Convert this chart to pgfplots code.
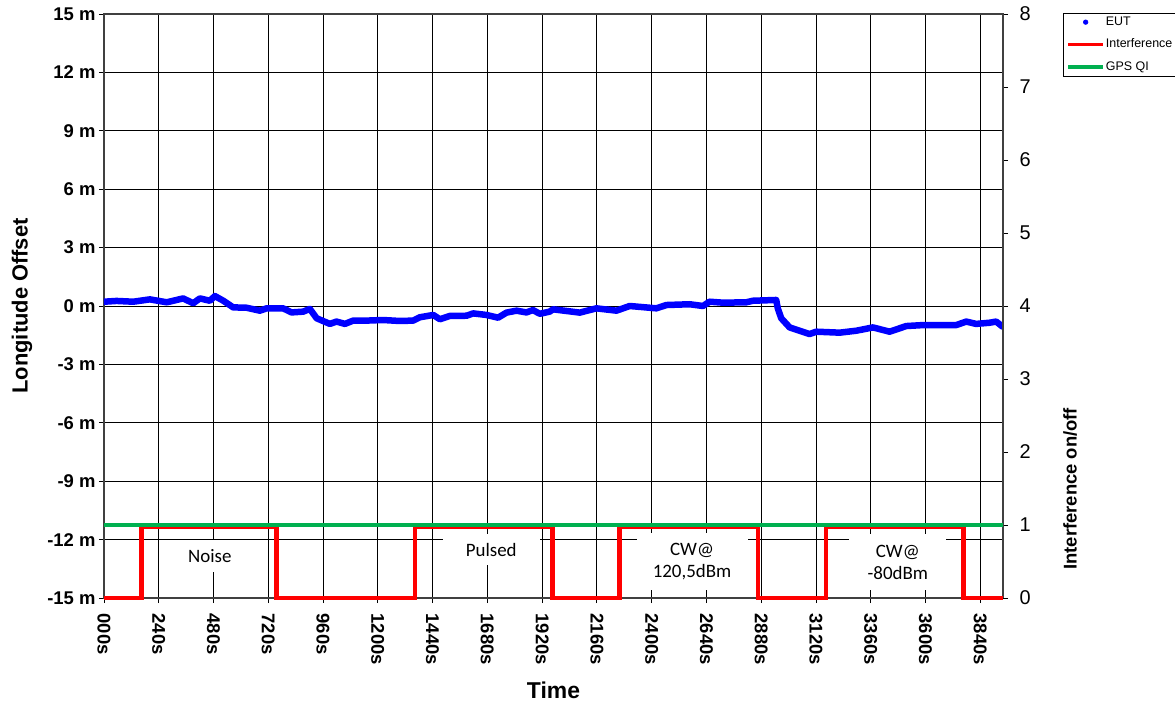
\documentclass[border=0pt]{standalone}
\usepackage{pgfplots}
\pgfplotsset{compat=1.18}
\usepackage{fontspec}
\setmainfont{Liberation Sans}
\newfontfamily\carlito{Carlito}
\definecolor{eutblue}{RGB}{0,0,255}
\definecolor{intred}{RGB}{255,0,0}
\definecolor{gpsgreen}{RGB}{0,176,80}
\begin{document}
\begin{tikzpicture}
\begin{axis}[
  at={(0,0)}, anchor=south west, scale only axis,
  width=899bp, height=584bp,
  xmin=0, xmax=3940, ymin=-15, ymax=15,
  xtick={0,240,...,3840},
  xticklabels={000s,240s,480s,720s,960s,1200s,1440s,1680s,1920s,2160s,2400s,2640s,2880s,3120s,3360s,3600s,3840s},
  ytick={-15,-12,...,15},
  yticklabels={-15 m,-12 m,-9 m,-6 m,-3 m,0 m,3 m,6 m,9 m,12 m,15 m},
  xtick pos=bottom, ytick pos=left,
  tick align=outside, major tick length=5bp,
  tick style={black, line width=0.8bp},
  grid=major, major grid style={black, line width=0.8bp},
  axis line style={black!75, line width=1.2bp},
  xticklabel shift=7bp,
  x tick label style={rotate=-90, anchor=west, font=\bfseries\fontsize{18.5}{18.5}\selectfont},
  y tick label style={font=\bfseries\fontsize{18.5}{18.5}\selectfont},
  xlabel={Time}, ylabel={Longitude Offset},
  every axis x label/.style={at={(axis description cs:0.5,0)}, yshift=-92bp, anchor=center, font=\bfseries\fontsize{23}{23}\selectfont},
  every axis y label/.style={at={(axis description cs:0,0.5)}, xshift=-82bp, rotate=90, anchor=center, font=\bfseries\fontsize{22}{22}\selectfont},
]
\addplot[eutblue, line width=6.5bp, line join=round, line cap=round] coordinates {
(0,0.22) (55,0.26) (128,0.22) (201,0.34) (275,0.19) (347,0.39) (391,0.14) (420,0.39)
(464,0.27) (486,0.51) (523,0.27) (566,-0.07) (625,-0.09) (683,-0.24) (713,-0.12)
(785,-0.12) (822,-0.33) (873,-0.29) (902,-0.15) (932,-0.63) (990,-0.92) (1019,-0.80)
(1056,-0.92) (1092,-0.75) (1151,-0.75) (1223,-0.72) (1297,-0.77) (1355,-0.75)
(1384,-0.58) (1443,-0.46) (1472,-0.68) (1516,-0.51) (1589,-0.50) (1618,-0.38)
(1676,-0.46) (1727,-0.60) (1764,-0.34) (1808,-0.24) (1851,-0.33) (1880,-0.21)
(1910,-0.40) (1953,-0.29) (1968,-0.17) (2085,-0.34) (2158,-0.12) (2246,-0.24)
(2304,0.0) (2421,-0.12) (2465,0.05) (2567,0.09) (2625,0.0) (2654,0.22) (2713,0.17)
(2815,0.19) (2844,0.27) (2946,0.31) (2953,-0.12) (2968,-0.63) (3005,-1.10)
(3048,-1.27) (3092,-1.44) (3122,-1.32) (3224,-1.37) (3297,-1.27) (3370,-1.10)
(3443,-1.32) (3516,-1.03) (3589,-0.98) (3662,-0.98) (3735,-0.98) (3779,-0.80)
(3822,-0.92) (3881,-0.86) (3910,-0.80) (3938,-1.06)
};
\end{axis}
\begin{axis}[
  at={(0,0)}, anchor=south west, scale only axis,
  width=899bp, height=584bp,
  xmin=0, xmax=3940, ymin=0, ymax=8,
  axis x line=none, axis y line*=right,
  ytick={0,1,...,8},
  tick align=outside, major tick length=5bp,
  tick style={black, line width=0.8bp},
  axis line style={black!75, line width=1.2bp},
  /pgf/number format/assume math mode=true,
  yticklabel shift=8bp,
  y tick label style={font=\fontsize{20}{20}\selectfont},
  ylabel={Interference on/off},
  every axis y label/.style={at={(axis description cs:1,0.187)}, xshift=67bp, rotate=90, anchor=center, font=\bfseries\fontsize{18.5}{18.5}\selectfont},
  clip=false,
  legend style={at={(axis description cs:1,1)}, anchor=north west, xshift=60bp, yshift=1bp,
    draw=black, line width=0.8bp, font=\fontsize{12.5}{12.5}\selectfont,
    inner xsep=3bp, inner ysep=2bp, row sep=9bp,
    nodes={inner sep=1bp, text height=9bp, text depth=2.5bp}},
  legend cell align=left,
]
\node[fill=white, minimum width=96bp, minimum height=32bp, inner sep=0pt, font=\carlito\fontsize{19}{22}\selectfont] at (axis cs:464,0.57) {Noise};
\node[fill=white, minimum width=97bp, minimum height=31bp, inner sep=0pt, font=\carlito\fontsize{19}{22}\selectfont] at (axis cs:1697,0.66) {Pulsed};
\node[fill=white, minimum width=111bp, minimum height=57bp, inner sep=0pt, align=center, font=\carlito\fontsize{19}{22}\selectfont] at (axis cs:2577,0.50) {CW@\\120,5dBm};
\node[fill=white, minimum width=97bp, minimum height=56bp, inner sep=0pt, align=center, font=\carlito\fontsize{19}{22}\selectfont] at (axis cs:3479,0.49) {CW@\\-80dBm};
\addlegendimage{legend image code/.code={\fill[eutblue] (17.5bp,0bp) circle (2.2bp);}}
\addlegendentry{EUT}
\addplot[intred, line width=4.5bp, line join=miter,
  legend image code/.code={\draw[intred, line width=3.5bp] (0bp,0bp) -- (35bp,0bp);}] coordinates {
(0,0) (165,0) (165,0.97) (757,0.97) (757,0) (1362,0) (1362,0.97) (1965,0.97) (1965,0)
(2260,0) (2260,0.97) (2866,0.97) (2866,0) (3165,0) (3165,0.97) (3767,0.97) (3767,0) (3938,0)
};
\addlegendentry{Interference}
\addplot[gpsgreen, line width=4bp,
  legend image code/.code={\draw[gpsgreen, line width=3.5bp] (0bp,0bp) -- (35bp,0bp);}] coordinates {
(0,1) (3938,1)
};
\addlegendentry{GPS QI}
\end{axis}
\pgfresetboundingbox
\path (-104bp,-110bp) rectangle (1071bp,598bp);
\end{tikzpicture}
\end{document}
